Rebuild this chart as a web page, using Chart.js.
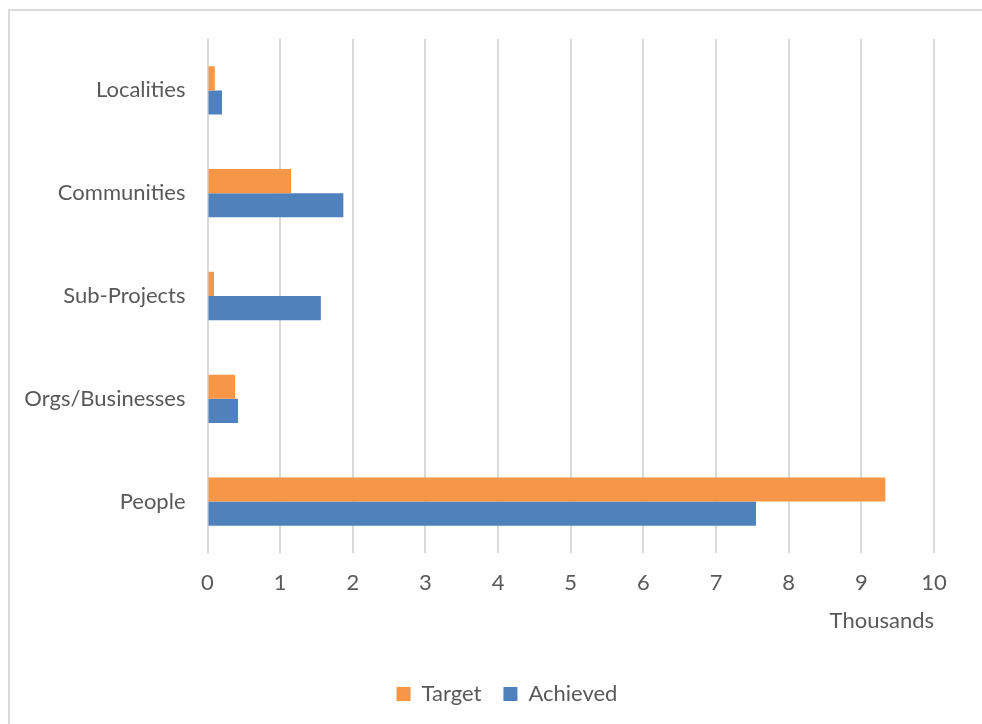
<!DOCTYPE html>
<html>
<head>
<meta charset="utf-8">
<script src="https://cdn.jsdelivr.net/npm/chart.js@4"></script>
<style>
  html, body { margin: 0; padding: 0; background: #fff; overflow: hidden; }
  #frame {
    position: absolute; left: 8px; top: 9px;
    width: 1100px; height: 900px;
    border: 2px solid #d9d9d9;
  }
  #wrap { position: absolute; left: 0; top: 0; width: 982px; height: 724px; }
</style>
</head>
<body>
<div id="frame"></div>
<div id="wrap"><canvas id="barChart" width="982" height="724"></canvas></div>
<script>
const categories = ["Localities", "Communities", "Sub-Projects", "Orgs/Businesses", "People"];
const targetValues = [0.10, 1.15, 0.09, 0.38, 9.33];
const achievedValues = [0.20, 1.87, 1.56, 0.42, 7.55];
const xTickValues = [0, 1, 2, 3, 4, 5, 6, 7, 8, 9, 10];

const textColor = "#595959";
const gridColor = "#d9d9d9";
const fontFamily = "Lato, 'Open Sans', sans-serif";

// nudge the legend so it sits centred under the whole frame, not just the plot
const legendShift = {
  id: "legendShift",
  afterLayout(chart) {
    if (!chart.legend) return;
    chart.legend.left += 36;
    chart.legend.right += 36;
  },
};

const ctx = document.getElementById("barChart").getContext("2d");

window.myChart = new Chart(ctx, {
  type: "bar",
  data: {
    labels: categories,
    datasets: [
      {
        label: "Target",
        data: targetValues,
        backgroundColor: "#f79646",
        categoryPercentage: 0.47,
        barPercentage: 1.0,
      },
      {
        label: "Achieved",
        data: achievedValues,
        backgroundColor: "#4f81bd",
        categoryPercentage: 0.47,
        barPercentage: 1.0,
      },
    ],
  },
  plugins: [legendShift],
  options: {
    indexAxis: "y",
    responsive: false,
    animation: false,
    layout: {
      padding: { left: 8, right: 48, top: 39, bottom: 9 },
    },
    plugins: {
      tooltip: { enabled: false },
      legend: {
        position: "bottom",
        labels: {
          color: textColor,
          font: { family: fontFamily, size: 22 },
          boxWidth: 14,
          boxHeight: 14,
          padding: 22,
        },
      },
    },
    scales: {
      x: {
        min: 0,
        max: 10,
        afterBuildTicks(scale) {
          scale.ticks = xTickValues.map((v) => ({ value: v }));
        },
        afterFit(scale) {
          scale.height = 108;
        },
        grid: { color: gridColor, lineWidth: 2, drawTicks: false },
        border: { display: false },
        ticks: {
          color: textColor,
          font: { family: fontFamily, size: 22 },
          padding: 17,
          maxRotation: 0,
        },
        title: {
          display: true,
          text: "Thousands",
          align: "end",
          color: textColor,
          font: { family: fontFamily, size: 22 },
          padding: { top: 0, bottom: 27 },
        },
      },
      y: {
        afterFit(scale) {
          scale.width = 199.5;
        },
        grid: { display: false, drawTicks: false },
        border: { display: false },
        ticks: {
          color: textColor,
          font: { family: fontFamily, size: 22 },
          padding: 22,
        },
      },
    },
  },
});
</script>
</body>
</html>
